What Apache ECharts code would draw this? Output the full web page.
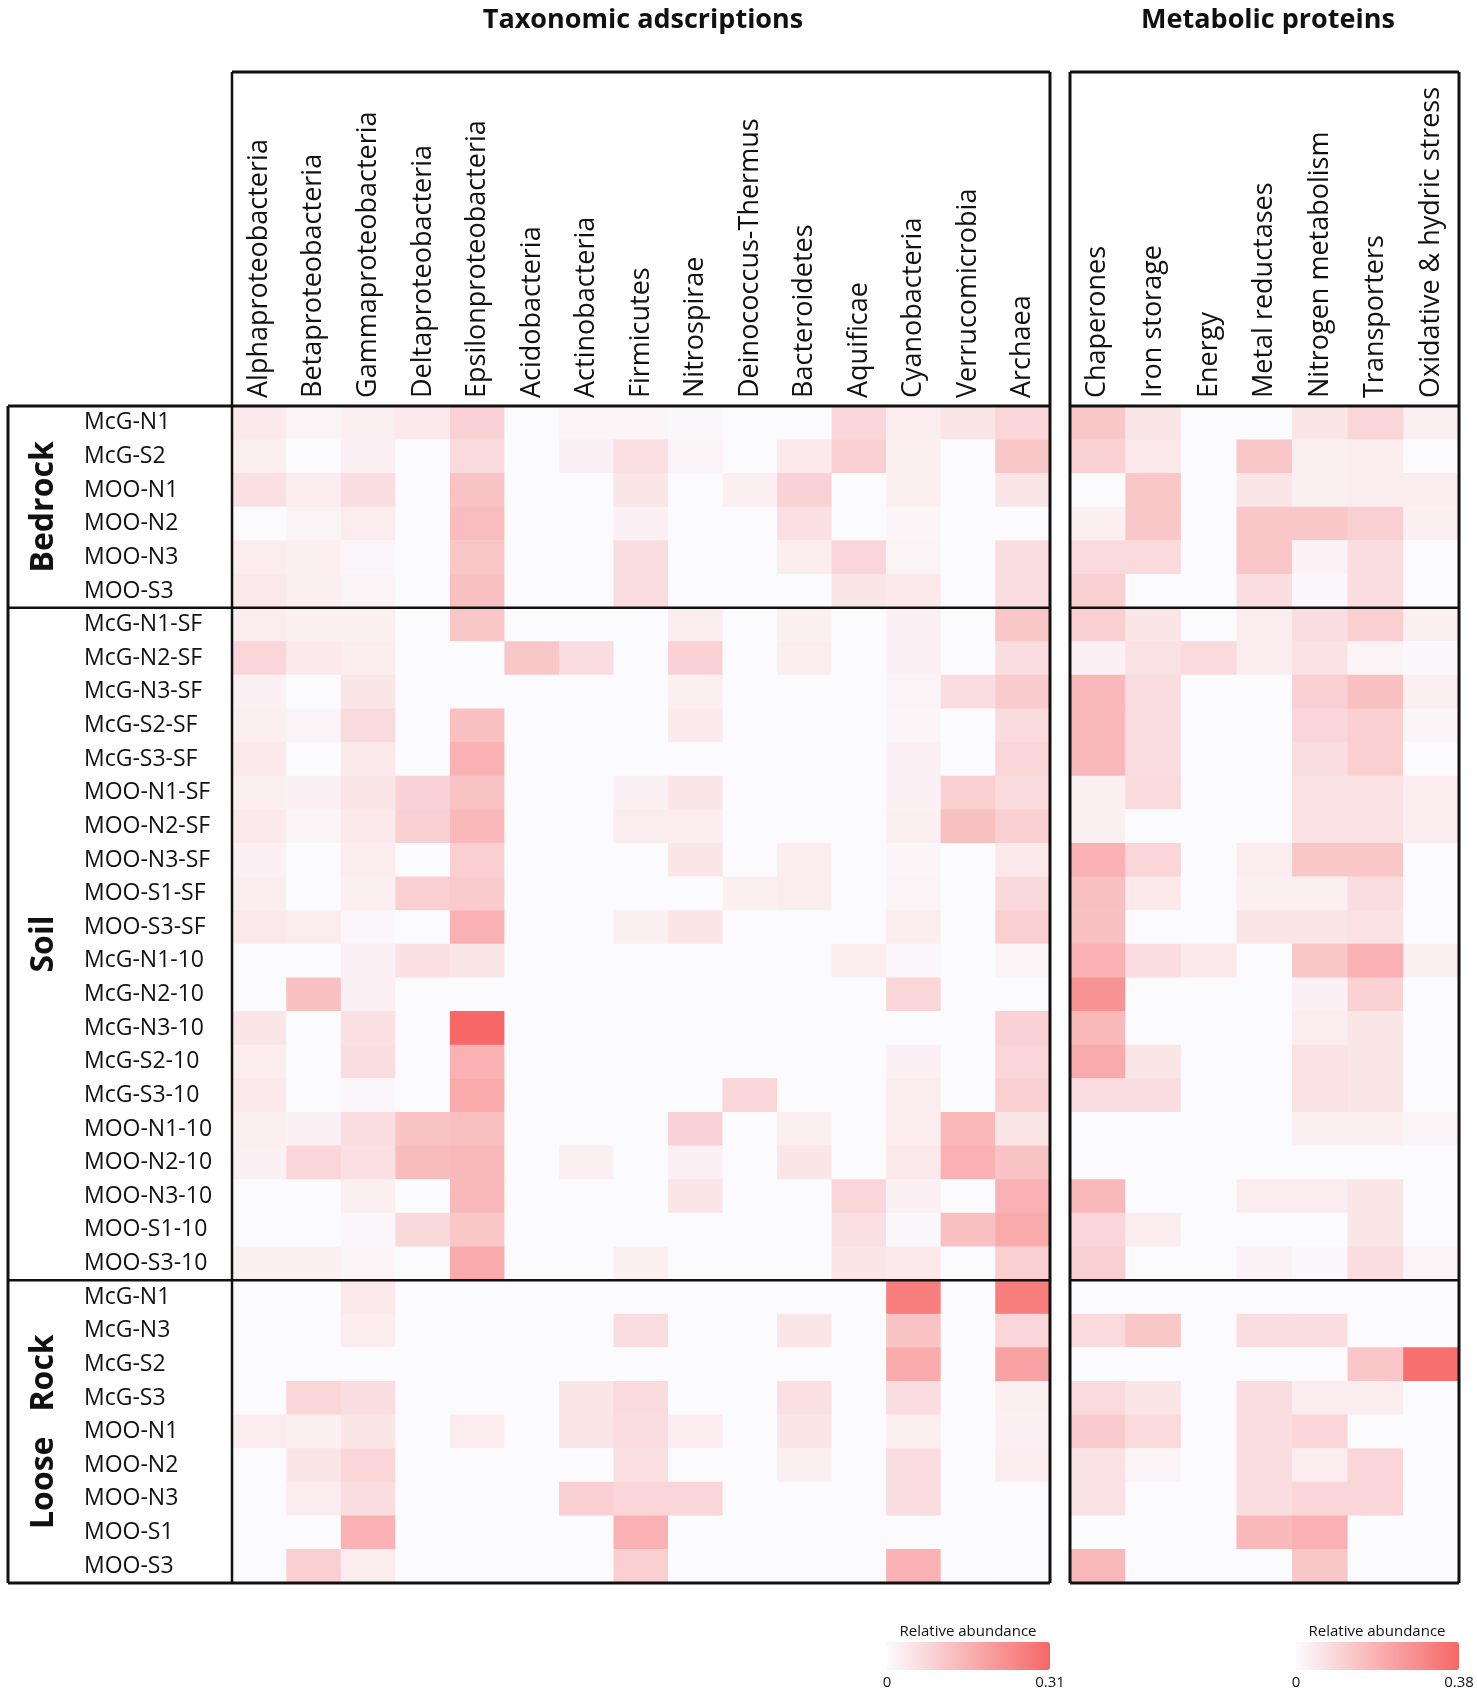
<!DOCTYPE html>
<html>
<head>
<meta charset="utf-8">
<title>Taxonomic adscriptions / Metabolic proteins</title>
<script src="https://cdn.jsdelivr.net/npm/echarts@6/dist/echarts.min.js"></script>
<style>
  html, body { margin: 0; padding: 0; background: #fff; }
  #chart { width: 1477px; height: 1689px; }
</style>
</head>
<body>
<div id="chart"></div>
<script>
// column names
var taxa = ['Alphaproteobacteria', 'Betaproteobacteria', 'Gammaproteobacteria', 'Deltaproteobacteria',
  'Epsilonproteobacteria', 'Acidobacteria', 'Actinobacteria', 'Firmicutes', 'Nitrospirae',
  'Deinococcus-Thermus', 'Bacteroidetes', 'Aquificae', 'Cyanobacteria', 'Verrucomicrobia', 'Archaea'];
var proteins = ['Chaperones', 'Iron storage', 'Energy', 'Metal reductases', 'Nitrogen metabolism',
  'Transporters', 'Oxidative & hydric stress'];

// samples per environment
var bedrockSamples = ['McG-N1', 'McG-S2', 'MOO-N1', 'MOO-N2', 'MOO-N3', 'MOO-S3'];
var soilSamples = ['McG-N1-SF', 'McG-N2-SF', 'McG-N3-SF', 'McG-S2-SF', 'McG-S3-SF', 'MOO-N1-SF',
  'MOO-N2-SF', 'MOO-N3-SF', 'MOO-S1-SF', 'MOO-S3-SF', 'McG-N1-10', 'McG-N2-10', 'McG-N3-10',
  'McG-S2-10', 'McG-S3-10', 'MOO-N1-10', 'MOO-N2-10', 'MOO-N3-10', 'MOO-S1-10', 'MOO-S3-10'];
var looseSamples = ['McG-N1', 'McG-N3', 'McG-S2', 'McG-S3', 'MOO-N1', 'MOO-N2', 'MOO-N3', 'MOO-S1', 'MOO-S3'];

// relative abundance, taxa (one row per sample)
var bedrockTaxa = [
  [0.037, 0.015, 0.025, 0.037, 0.087, 0, 0.012, 0.012, 0.006, 0, 0, 0.078, 0.03, 0.047, 0.078],
  [0.025, 0, 0.022, 0, 0.068, 0, 0.022, 0.056, 0.015, 0, 0.037, 0.093, 0.025, 0, 0.109],
  [0.056, 0.03, 0.062, 0, 0.118, 0, 0, 0.047, 0, 0.025, 0.087, 0, 0.025, 0, 0.047],
  [0, 0.015, 0.03, 0, 0.13, 0, 0, 0.022, 0, 0, 0.056, 0, 0.012, 0, 0],
  [0.03, 0.025, 0.01, 0, 0.109, 0, 0, 0.062, 0, 0, 0.03, 0.078, 0.015, 0, 0.062],
  [0.04, 0.025, 0.015, 0, 0.124, 0, 0, 0.062, 0, 0, 0, 0.047, 0.037, 0, 0.062]
];
var soilTaxa = [
  [0.03, 0.025, 0.025, 0, 0.109, 0, 0, 0, 0.03, 0, 0.025, 0, 0.02, 0, 0.109],
  [0.078, 0.037, 0.03, 0, 0, 0.109, 0.062, 0, 0.087, 0, 0.03, 0, 0.02, 0, 0.062],
  [0.02, 0, 0.047, 0, 0, 0, 0, 0, 0.025, 0, 0, 0, 0.015, 0.062, 0.1],
  [0.025, 0.015, 0.068, 0, 0.124, 0, 0, 0, 0.037, 0, 0, 0, 0.012, 0, 0.068],
  [0.037, 0, 0.04, 0, 0.155, 0, 0, 0, 0, 0, 0, 0, 0.02, 0, 0.078],
  [0.025, 0.022, 0.047, 0.087, 0.118, 0, 0, 0.022, 0.047, 0, 0, 0, 0.02, 0.093, 0.068],
  [0.037, 0.015, 0.04, 0.093, 0.14, 0, 0, 0.03, 0.03, 0, 0, 0, 0.025, 0.124, 0.093],
  [0.02, 0, 0.03, 0, 0.093, 0, 0, 0, 0.047, 0, 0.03, 0, 0.012, 0, 0.037],
  [0.03, 0, 0.025, 0.093, 0.1, 0, 0, 0, 0, 0.025, 0.03, 0, 0.015, 0, 0.071],
  [0.04, 0.03, 0.01, 0, 0.155, 0, 0, 0.025, 0.047, 0, 0, 0, 0.03, 0, 0.093],
  [0, 0, 0.022, 0.056, 0.047, 0, 0, 0, 0, 0, 0, 0.03, 0.01, 0, 0.015],
  [0, 0.124, 0.02, 0, 0, 0, 0, 0, 0, 0, 0, 0, 0.078, 0, 0],
  [0.047, 0, 0.056, 0, 0.31, 0, 0, 0, 0, 0, 0, 0, 0, 0, 0.087],
  [0.03, 0, 0.062, 0, 0.155, 0, 0, 0, 0, 0, 0, 0, 0.022, 0, 0.078],
  [0.04, 0, 0.01, 0, 0.17, 0, 0, 0, 0, 0.078, 0, 0, 0.03, 0, 0.093],
  [0.025, 0.02, 0.062, 0.118, 0.124, 0, 0, 0, 0.087, 0, 0.025, 0, 0.03, 0.14, 0.047],
  [0.022, 0.078, 0.056, 0.133, 0.14, 0, 0.025, 0, 0.02, 0, 0.047, 0, 0.04, 0.155, 0.118],
  [0, 0, 0.025, 0, 0.14, 0, 0, 0, 0.047, 0, 0, 0.078, 0.02, 0, 0.155],
  [0, 0, 0.01, 0.071, 0.109, 0, 0, 0, 0, 0, 0, 0.056, 0.006, 0.124, 0.17],
  [0.025, 0.025, 0.012, 0, 0.17, 0, 0, 0.025, 0, 0, 0, 0.047, 0.037, 0, 0.093]
];
var looseTaxa = [
  [0, 0, 0.04, 0, 0, 0, 0, 0, 0, 0, 0, 0, 0.264, 0, 0.264],
  [0, 0, 0.03, 0, 0, 0, 0, 0.062, 0, 0, 0.047, 0, 0.118, 0, 0.078],
  [0, 0, 0, 0, 0, 0, 0, 0, 0, 0, 0, 0, 0.17, 0, 0.186],
  [0, 0.078, 0.062, 0, 0, 0, 0.047, 0.068, 0, 0, 0.056, 0, 0.062, 0, 0.025],
  [0.03, 0.025, 0.047, 0, 0.03, 0, 0.047, 0.062, 0.03, 0, 0.047, 0, 0.025, 0, 0.02],
  [0, 0.047, 0.078, 0, 0, 0, 0, 0.056, 0, 0, 0.025, 0, 0.062, 0, 0.03],
  [0, 0.03, 0.062, 0, 0, 0, 0.093, 0.078, 0.078, 0, 0, 0, 0.062, 0, 0],
  [0, 0, 0.155, 0, 0, 0, 0, 0.155, 0, 0, 0, 0, 0, 0, 0],
  [0, 0.093, 0.03, 0, 0, 0, 0, 0.093, 0, 0, 0, 0, 0.155, 0, 0]
];

// relative abundance, metabolic proteins
var bedrockProteins = [
  [0.133, 0.057, 0, 0, 0.057, 0.095, 0.03],
  [0.106, 0.049, 0, 0.133, 0.03, 0.038, 0],
  [0, 0.133, 0, 0.057, 0.03, 0.038, 0.038],
  [0.03, 0.133, 0, 0.133, 0.133, 0.114, 0.03],
  [0.084, 0.084, 0, 0.133, 0.023, 0.076, 0],
  [0.114, 0, 0, 0.076, 0.011, 0.076, 0]
];
var soilProteins = [
  [0.114, 0.057, 0, 0.038, 0.076, 0.114, 0.03],
  [0.027, 0.068, 0.084, 0.038, 0.068, 0.019, 0.008],
  [0.171, 0.076, 0, 0, 0.114, 0.152, 0.03],
  [0.171, 0.076, 0, 0, 0.095, 0.114, 0.015],
  [0.171, 0.076, 0, 0, 0.076, 0.114, 0],
  [0.03, 0.084, 0, 0, 0.068, 0.068, 0.038],
  [0.03, 0, 0, 0, 0.068, 0.068, 0.038],
  [0.19, 0.095, 0, 0.038, 0.133, 0.133, 0],
  [0.152, 0.046, 0, 0.03, 0.03, 0.076, 0],
  [0.152, 0, 0, 0.057, 0.057, 0.068, 0],
  [0.19, 0.076, 0.046, 0, 0.133, 0.19, 0.03],
  [0.266, 0, 0, 0, 0.027, 0.106, 0],
  [0.171, 0, 0, 0, 0.038, 0.057, 0],
  [0.209, 0.057, 0, 0, 0.068, 0.057, 0],
  [0.076, 0.076, 0, 0, 0.068, 0.057, 0],
  [0, 0, 0, 0, 0.03, 0.03, 0.019],
  [0, 0, 0, 0, 0, 0, 0],
  [0.171, 0, 0, 0.038, 0.038, 0.057, 0],
  [0.095, 0.038, 0, 0, 0, 0.057, 0],
  [0.114, 0, 0, 0.023, 0.011, 0.076, 0.019]
];
var looseProteins = [
  [0, 0, 0, 0, 0, 0, 0],
  [0.084, 0.133, 0, 0.076, 0.076, 0, 0],
  [0, 0, 0, 0, 0, 0.133, 0.36],
  [0.084, 0.057, 0, 0.076, 0.038, 0.038, 0],
  [0.122, 0.084, 0, 0.076, 0.095, 0, 0],
  [0.068, 0.019, 0, 0.076, 0.038, 0.095, 0],
  [0.068, 0, 0, 0.076, 0.095, 0.095, 0],
  [0, 0, 0, 0.171, 0.19, 0, 0],
  [0.171, 0, 0, 0, 0.133, 0, 0]
];

var groupNames = ['Bedrock', 'Soil', 'Loose   Rock'];
var taxaMax = 0.31;
var proteinMax = 0.38;

// layout (px)
var gridTop = 406, gridHeight = 1177;
var leftBox = { outer: 8, x: 232, w: 818 };
var rightBox = { x: 1070, w: 389 };
var boxTop = 72;

var samples = bedrockSamples.concat(soilSamples, looseSamples);
var groupSizes = [bedrockSamples.length, soilSamples.length, looseSamples.length];

function toCells(rows) {
  var out = [];
  rows.forEach(function (row, y) {
    row.forEach(function (v, x) { out.push([x, y, v]); });
  });
  return out;
}
var taxaCells = toCells(bedrockTaxa.concat(soilTaxa, looseTaxa));
var proteinCells = toCells(bedrockProteins.concat(soilProteins, looseProteins));

var chart = echarts.init(document.getElementById('chart'));
var palette = ['#fbfbfe', '#f76767'];
var rowH = gridHeight / samples.length;
var bottom = gridTop + gridHeight;

// frames, separators and text
var graphics = [];
function line(x1, y1, x2, y2, w) {
  graphics.push({ type: 'line', z: 100, shape: { x1: x1, y1: y1, x2: x2, y2: y2 },
    style: { stroke: '#111', lineWidth: w } });
}
function text(x, y, str, font, align, rot) {
  graphics.push({ type: 'text', z: 100, x: x, y: y, rotation: rot || 0,
    style: { text: str, font: font, fill: '#111', align: align || 'center', verticalAlign: 'middle' } });
}
var lx2 = leftBox.x + leftBox.w, rx1 = rightBox.x, rx2 = rightBox.x + rightBox.w;
// left box
line(leftBox.x, boxTop, lx2, boxTop, 3);
line(lx2, boxTop, lx2, bottom, 3);
line(leftBox.x, boxTop, leftBox.x, bottom, 2.5);
line(leftBox.outer, gridTop, lx2, gridTop, 3);
line(leftBox.outer, gridTop, leftBox.outer, bottom, 3);
line(leftBox.outer, bottom, lx2, bottom, 3);
// right box
line(rx1, boxTop, rx2, boxTop, 3);
line(rx1, boxTop, rx1, bottom, 3);
line(rx2, boxTop, rx2, bottom, 3);
line(rx1, gridTop, rx2, gridTop, 3);
line(rx1, bottom, rx2, bottom, 3);
// group separators and labels
var start = 0;
groupSizes.forEach(function (n, i) {
  var yEnd = gridTop + (start + n) * rowH;
  if (i < groupSizes.length - 1) {
    line(leftBox.outer, yEnd, lx2, yEnd, 2.5);
    line(rx1, yEnd, rx2, yEnd, 2.5);
  }
  text(44, gridTop + (start + n / 2) * rowH, groupNames[i], 'bold 32px "Open Sans"', 'center', Math.PI / 2);
  start += n;
});
// titles
text(643, 20, 'Taxonomic adscriptions', 'bold 27px "Open Sans"');
text(1268, 20, 'Metabolic proteins', 'bold 27px "Open Sans"');
// legend captions
var legends = [{ x: 887, max: taxaMax }, { x: 1296, max: proteinMax }];
legends.forEach(function (l) {
  text(l.x + 81, 1632, 'Relative abundance', '15px "Open Sans"');
  text(l.x, 1683, '0', '15px "Open Sans"');
  text(l.x + 163, 1683, String(l.max), '15px "Open Sans"');
});

var axisFont = { fontFamily: 'Open Sans', color: '#111' };
var colLabel = { rotate: -90, fontSize: 27, margin: 8, interval: 0 };

var option = {
  backgroundColor: '#fff',
  animation: false,
  grid: [
    { left: leftBox.x, top: gridTop, width: leftBox.w, height: gridHeight },
    { left: rightBox.x, top: gridTop, width: rightBox.w, height: gridHeight }
  ],
  xAxis: [
    { type: 'category', gridIndex: 0, position: 'top', data: taxa,
      axisLine: { show: false }, axisTick: { show: false }, splitLine: { show: false },
      axisLabel: Object.assign({}, colLabel, axisFont) },
    { type: 'category', gridIndex: 1, position: 'top', data: proteins,
      axisLine: { show: false }, axisTick: { show: false }, splitLine: { show: false },
      axisLabel: Object.assign({}, colLabel, axisFont) }
  ],
  yAxis: [
    { type: 'category', gridIndex: 0, data: samples, inverse: true,
      axisLine: { show: false }, axisTick: { show: false }, splitLine: { show: false },
      axisLabel: Object.assign({ align: 'left', margin: 148, fontSize: 23, interval: 0 }, axisFont) },
    { type: 'category', gridIndex: 1, data: samples, inverse: true,
      axisLine: { show: false }, axisTick: { show: false }, splitLine: { show: false },
      axisLabel: { show: false } }
  ],
  visualMap: [
    { type: 'continuous', seriesIndex: 0, min: 0, max: taxaMax, orient: 'horizontal',
      left: legends[0].x, top: 1642, itemWidth: 28, itemHeight: 163, padding: 0,
      calculable: false, hoverLink: false, text: null, inRange: { color: palette } },
    { type: 'continuous', seriesIndex: 1, min: 0, max: proteinMax, orient: 'horizontal',
      left: legends[1].x, top: 1642, itemWidth: 28, itemHeight: 163, padding: 0,
      calculable: false, hoverLink: false, text: null, inRange: { color: palette } }
  ],
  series: [
    { name: 'Taxonomic adscriptions', type: 'heatmap', xAxisIndex: 0, yAxisIndex: 0,
      data: taxaCells, itemStyle: { borderWidth: 0 }, emphasis: { disabled: true } },
    { name: 'Metabolic proteins', type: 'heatmap', xAxisIndex: 1, yAxisIndex: 1,
      data: proteinCells, itemStyle: { borderWidth: 0 }, emphasis: { disabled: true } }
  ],
  graphic: { elements: graphics }
};

chart.setOption(option);
</script>
</body>
</html>
